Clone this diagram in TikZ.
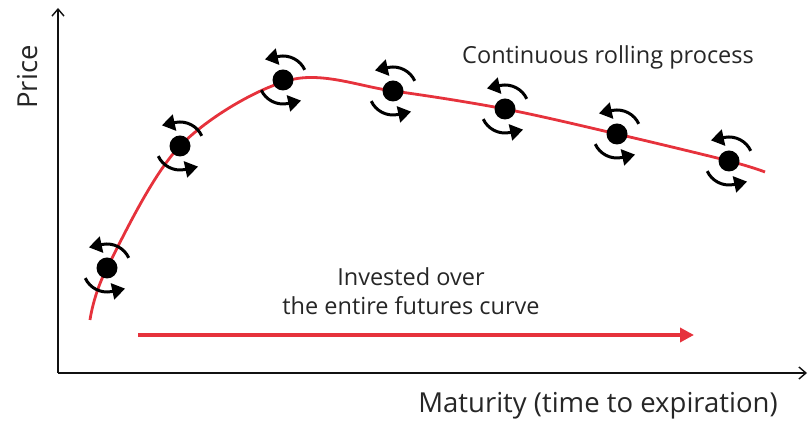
\documentclass[tikz,border=0pt]{standalone}
\usepackage{fontspec}
\setmainfont{Open Sans}
\usepackage{tikz}
\usetikzlibrary{arrows.meta,positioning,calc}
\definecolor{curvered}{HTML}{E6323C}
\definecolor{ink}{HTML}{111111}
\definecolor{textgray}{HTML}{262626}
\tikzset{
  axis/.style={-{Straight Barb[length=7pt,width=12pt]},line width=1.4pt,color=ink},
  futpt/.style={circle,fill=black,inner sep=0pt,minimum size=21pt},
  rollarr/.style={-{Triangle[length=13pt,width=16pt]},line width=3pt,color=black},
  investarr/.style={-{Triangle[length=14pt,width=14pt]},line width=3.8pt,color=curvered},
  lbl/.style={font=\fontsize{23.5}{29}\selectfont,color=textgray,align=center,inner sep=0pt},
  axislbl/.style={lbl,font=\fontsize{27.5}{32}\selectfont}
}
\begin{document}
\begin{tikzpicture}[x=1pt,y=1pt]
  \useasboundingbox (0,0) rectangle (809,422);
  % axes
  \coordinate (origin) at (58,49);
  \coordinate (ytop) at (58,414);
  \coordinate (xend) at (807,49);
  \draw[axis] (origin) -- (ytop);
  \draw[axis] (origin) -- (xend);
  \node[axislbl,rotate=90] (price) at (28,345) {Price};
  \node[axislbl] (maturity) at (598,16) {Maturity (time to expiration)};
  % futures curve
  \draw[curvered,line width=2.8pt] plot[smooth,tension=0.55] coordinates
    {(90,102) (107,154) (180,276) (290,342) (393,331) (505,313) (617,288) (729,261) (765,250)};
  % contracts on the curve
  \node[futpt] (c1) at (107,154) {};
  \node[futpt] (c2) at (180,276) {};
  \node[futpt] (c3) at (283,342) {};
  \node[futpt] (c4) at (393,331) {};
  \node[futpt] (c5) at (505,313) {};
  \node[futpt] (c6) at (617,288) {};
  \node[futpt] (c7) at (729,261) {};
  \foreach \c in {c1,c2,c3,c4,c5,c6,c7} {
    \draw[rollarr] ($(\c.center)+(25:24)$) arc[start angle=25,end angle=100,radius=24] -- +(-14,-3);
    \draw[rollarr] ($(\c.center)+(205:24)$) arc[start angle=205,end angle=280,radius=24] -- +(14,3);
  }
  \node[lbl] (rolling) at (608,365) {Continuous rolling process};
  % invested over the curve
  \node[lbl] (invested) at (411,131) {Invested over\\the entire futures curve};
  \coordinate (arrstart) at (138,87);
  \coordinate (arrend) at (694,87);
  \draw[investarr] (arrstart) -- (arrend);
\end{tikzpicture}
\end{document}
